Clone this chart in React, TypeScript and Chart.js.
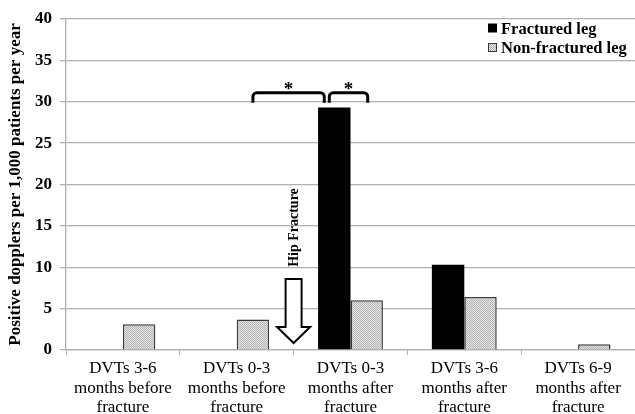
import React, { useEffect, useRef } from 'react';
import { Chart, registerables } from 'chart.js';

Chart.register(...registerables);

const categories: string[][] = [
  ['DVTs 3-6', 'months before', 'fracture'],
  ['DVTs 0-3', 'months before', 'fracture'],
  ['DVTs 0-3', 'months after', 'fracture'],
  ['DVTs 3-6', 'months after', 'fracture'],
  ['DVTs 6-9', 'months after', 'fracture'],
];
const fracturedLeg = [0, 0, 29.3, 10.3, 0];
const nonFracturedLeg = [3.1, 3.7, 6.0, 6.4, 0.7];
const seriesLabels = ['Fractured leg', 'Non-fractured leg'];
const yTitle = 'Positive dopplers per 1,000 patients per year';
const yTicks = [0, 5, 10, 15, 20, 25, 30, 35, 40];
const arrowLabel = 'Hip Fracture';
const significanceMark = '*';

const SERIF = '"Liberation Serif", "Times New Roman", serif';

function makePattern(): CanvasPattern | string {
  const c = document.createElement('canvas');
  c.width = 2;
  c.height = 2;
  const g = c.getContext('2d');
  if (!g) return '#cccccc';
  g.fillStyle = '#e4e4e4';
  g.fillRect(0, 0, 2, 2);
  g.fillStyle = '#b4b4b4';
  g.fillRect(0, 0, 1, 1);
  g.fillRect(1, 1, 1, 1);
  const p = g.createPattern(c, 'repeat');
  return p || '#cccccc';
}

const annotationPlugin = {
  id: 'annotationPlugin',
  afterDatasetsDraw(chart: any) {
    const ctx: CanvasRenderingContext2D = chart.ctx;
    const xs = chart.scales.x;
    const ys = chart.scales.y;
    const mF = chart.getDatasetMeta(0).data;
    const mN = chart.getDatasetMeta(1).data;

    // significance brackets
    const top = ys.getPixelForValue(31.1);
    const foot = 10;
    const r = 4;
    const drawBracket = (x1: number, x2: number) => {
      ctx.save();
      ctx.beginPath();
      ctx.moveTo(x1, top + foot);
      ctx.arcTo(x1, top, x1 + r, top, r);
      ctx.arcTo(x2, top, x2, top + r, r);
      ctx.lineTo(x2, top + foot);
      ctx.lineWidth = 3;
      ctx.strokeStyle = '#000';
      ctx.lineJoin = 'round';
      ctx.stroke();
      ctx.font = `bold 19px ${SERIF}`;
      ctx.fillStyle = '#000';
      ctx.textAlign = 'center';
      ctx.textBaseline = 'alphabetic';
      ctx.fillText(significanceMark, (x1 + x2) / 2, top + 2);
      ctx.restore();
    };
    drawBracket(mN[1].x, mF[2].x - 10);
    drawBracket(mF[2].x - 5, mN[2].x + 1);

    // hollow arrow
    const xm = (xs.getPixelForValue(1) + xs.getPixelForValue(2)) / 2;
    const tip = ys.getPixelForValue(0) - 7;
    const arrowTop = tip - 64;
    const headH = 16;
    const shaftW = 8;
    const headW = 16.5;
    ctx.save();
    ctx.beginPath();
    ctx.moveTo(xm - shaftW, arrowTop);
    ctx.lineTo(xm + shaftW, arrowTop);
    ctx.lineTo(xm + shaftW, tip - headH);
    ctx.lineTo(xm + headW, tip - headH);
    ctx.lineTo(xm, tip);
    ctx.lineTo(xm - headW, tip - headH);
    ctx.lineTo(xm - shaftW, tip - headH);
    ctx.closePath();
    ctx.fillStyle = '#fff';
    ctx.fill();
    ctx.lineWidth = 2;
    ctx.strokeStyle = '#000';
    ctx.lineJoin = 'miter';
    ctx.stroke();
    ctx.restore();

    // rotated label
    ctx.save();
    ctx.translate(xm + 1, ys.getPixelForValue(14.8));
    ctx.rotate(-Math.PI / 2);
    ctx.font = `bold 14px ${SERIF}`;
    ctx.fillStyle = '#000';
    ctx.textAlign = 'center';
    ctx.textBaseline = 'middle';
    ctx.fillText(arrowLabel, 0, 0);
    ctx.restore();
  },
  afterDraw(chart: any) {
    // legend
    const ctx: CanvasRenderingContext2D = chart.ctx;
    const x0 = chart.chartArea.right - 147;
    const rows = [28.5, 48];
    ctx.save();
    ctx.font = `bold 16.5px ${SERIF}`;
    ctx.textAlign = 'left';
    ctx.textBaseline = 'middle';
    chart.data.datasets.forEach((ds: any, i: number) => {
      const yy = rows[i];
      ctx.fillStyle = ds.backgroundColor;
      ctx.fillRect(x0, yy - 5, 9, 9);
      if (ds.borderWidth) {
        ctx.lineWidth = 1;
        ctx.strokeStyle = ds.borderColor;
        ctx.strokeRect(x0 + 0.5, yy - 4.5, 8, 8);
      }
      ctx.fillStyle = '#000';
      ctx.fillText(ds.label, x0 + 13, yy + 1);
    });
    ctx.restore();
  },
};

export default function App() {
  const ref = useRef<HTMLCanvasElement | null>(null);

  useEffect(() => {
    document.body.style.margin = '0';
    if (!ref.current) return;
    const pattern = makePattern();
    const chart = new Chart(ref.current, {
      type: 'bar',
      data: {
        labels: categories,
        datasets: [
          {
            label: seriesLabels[0],
            data: fracturedLeg,
            backgroundColor: '#000000',
            borderWidth: 0,
            categoryPercentage: 0.57,
            barPercentage: 1,
          },
          {
            label: seriesLabels[1],
            data: nonFracturedLeg,
            backgroundColor: pattern as any,
            borderColor: '#3a3a3a',
            borderWidth: 1.5,
            categoryPercentage: 0.57,
            barPercentage: 1,
          },
        ],
      },
      options: {
        animation: false,
        responsive: true,
        maintainAspectRatio: false,
        layout: { padding: { top: 19, right: 0, left: 0, bottom: 0 } },
        plugins: {
          legend: { display: false },
          tooltip: { enabled: false },
        },
        scales: {
          x: {
            grid: {
              display: true,
              drawOnChartArea: false,
              drawTicks: true,
              tickLength: 5,
              color: '#b0b0b0',
              offset: true,
            },
            border: { display: true, color: '#b0b0b0', width: 1.3 },
            ticks: {
              color: '#000',
              font: { family: SERIF, size: 17, lineHeight: 1.15 },
              padding: 4,
              maxRotation: 0,
              autoSkip: false,
            },
            afterFit: (s: any) => {
              s.height = 64;
            },
          },
          y: {
            min: 0,
            max: 40,
            afterBuildTicks: (s: any) => {
              s.ticks = yTicks.map((v) => ({ value: v }));
            },
            grid: {
              color: '#b0b0b0',
              lineWidth: 1.3,
              tickLength: 6,
              drawTicks: true,
            },
            border: { display: true, color: '#b0b0b0', width: 1.3 },
            ticks: {
              color: '#000',
              font: { family: SERIF, size: 17, weight: 'bold' },
              padding: 8,
            },
            title: {
              display: true,
              text: yTitle,
              color: '#000',
              font: { family: SERIF, size: 17, weight: 'bold' },
              padding: { top: 5, bottom: 0 },
            },
            afterFit: (s: any) => {
              s.width = 66;
            },
          },
        },
      },
      plugins: [annotationPlugin],
    });
    return () => chart.destroy();
  }, []);

  return (
    <div style={{ position: 'relative', width: 635, height: 414 }}>
      <canvas ref={ref} />
    </div>
  );
}
